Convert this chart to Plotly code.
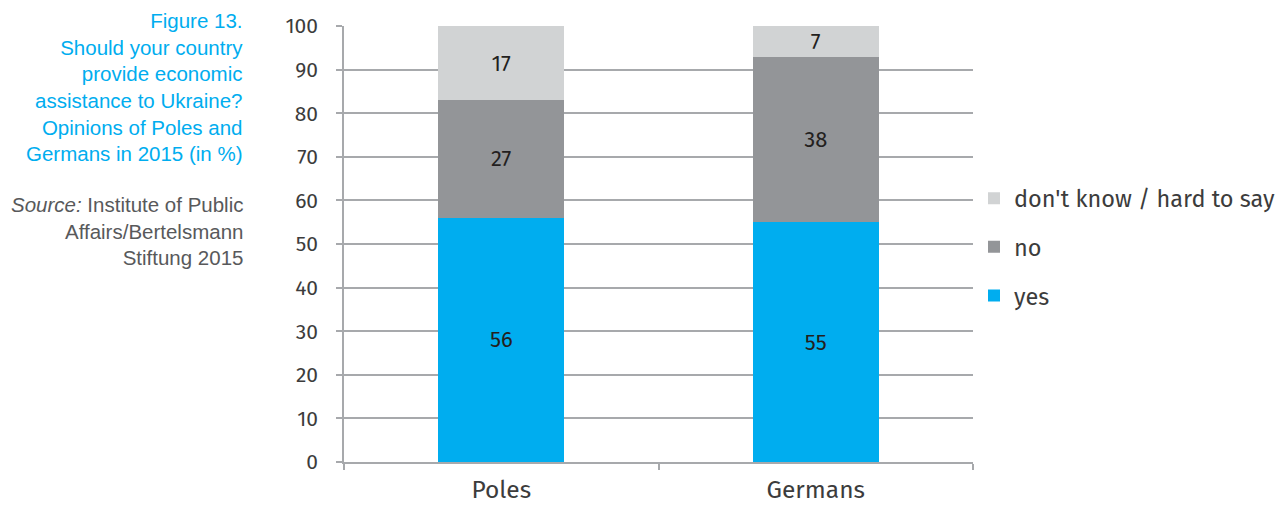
import plotly.graph_objects as go

categories = ["Poles", "Germans"]
yes_vals = [56, 55]
no_vals = [27, 38]
dk_vals = [17, 7]
series_names = ["yes", "no", "don't know / hard to say"]
colors = ["#00adef", "#939598", "#d1d3d4"]
legend_ranks = [3, 2, 1]
y_ticks = list(range(0, 101, 10))

FONT = "Fira Sans, Open Sans, DejaVu Sans, sans-serif"
OFF = 8  # page body margin
W, H = 1287 - OFF, 505 - OFF
L, R, T, B = 344 - OFF, 314, 26 - OFF, 43
PW, PH = W - L - R, H - T - B


def px_x(page_x):
    return (page_x - OFF - L) / PW


def px_y(page_y):
    return 1 - (page_y - OFF - T) / PH


fig = go.Figure()
for name, vals, col, rk in zip(series_names, [yes_vals, no_vals, dk_vals], colors, legend_ranks):
    fig.add_trace(go.Bar(
        x=categories, y=vals, name=name, marker=dict(color=col, line=dict(width=0)),
        text=vals, textposition="inside", insidetextanchor="middle",
        textangle=0, constraintext="none",
        textfont=dict(family=FONT, size=22, color="#231f20"),
        legendgroup=name, legendrank=rk, width=0.4,
    ))

fig.update_layout(
    barmode="stack",
    width=W, height=H,
    margin=dict(l=L, r=R, t=T, b=B),
    paper_bgcolor="white", plot_bgcolor="white",
    font=dict(family=FONT, color="#3c3c3c"),
    showlegend=True,
    legend=dict(
        xref="container", yref="container",
        x=(974 - OFF) / W, y=1 - (247 - OFF) / H, xanchor="left", yanchor="middle",
        traceorder="grouped", tracegroupgap=15,
        font=dict(family=FONT, size=23.5, color="#3c3c3c"),
        itemwidth=30, borderwidth=0,
    ),
)
fig.update_yaxes(
    range=[0, 100], tickvals=y_ticks, showgrid=True, gridcolor="#a7a9ac", gridwidth=1.5,
    showline=True, linecolor="#a7a9ac", linewidth=1.5,
    ticks="outside", ticklen=6, tickcolor="#a7a9ac", tickwidth=1.5,
    tickfont=dict(family=FONT, size=21, color="#3c3c3c"), zeroline=False,
    ticklabelstandoff=14, automargin=False,
)
fig.update_xaxes(
    showline=True, linecolor="#a7a9ac", linewidth=1.5,
    ticks="outside", ticklen=6, tickcolor="#a7a9ac", tickwidth=1.5,
    tickson="boundaries",
    tickfont=dict(family=FONT, size=24.5, color="#3c3c3c"),
    ticklabelstandoff=5, automargin=False,
)

title_lines = ["Figure 13.", "Should your country", "provide economic",
               "assistance to Ukraine?", "Opinions of Poles and", "Germans in 2015 (in %)"]
fig.add_annotation(
    xref="paper", yref="paper", x=px_x(245), y=px_y(7),
    xanchor="right", yanchor="top", align="right", showarrow=False,
    text="<br>".join(title_lines),
    font=dict(family="Liberation Sans, Arial, sans-serif", size=20.5, color="#00adef"),
)
fig.add_annotation(
    xref="paper", yref="paper", x=px_x(245), y=px_y(191),
    xanchor="right", yanchor="top", align="right", showarrow=False,
    text="<i>Source:</i> Institute of Public<br>Affairs/Bertelsmann<br>Stiftung 2015",
    font=dict(family="Liberation Sans, Arial, sans-serif", size=20.5, color="#58595b"),
)

fig.write_html("out.html")
